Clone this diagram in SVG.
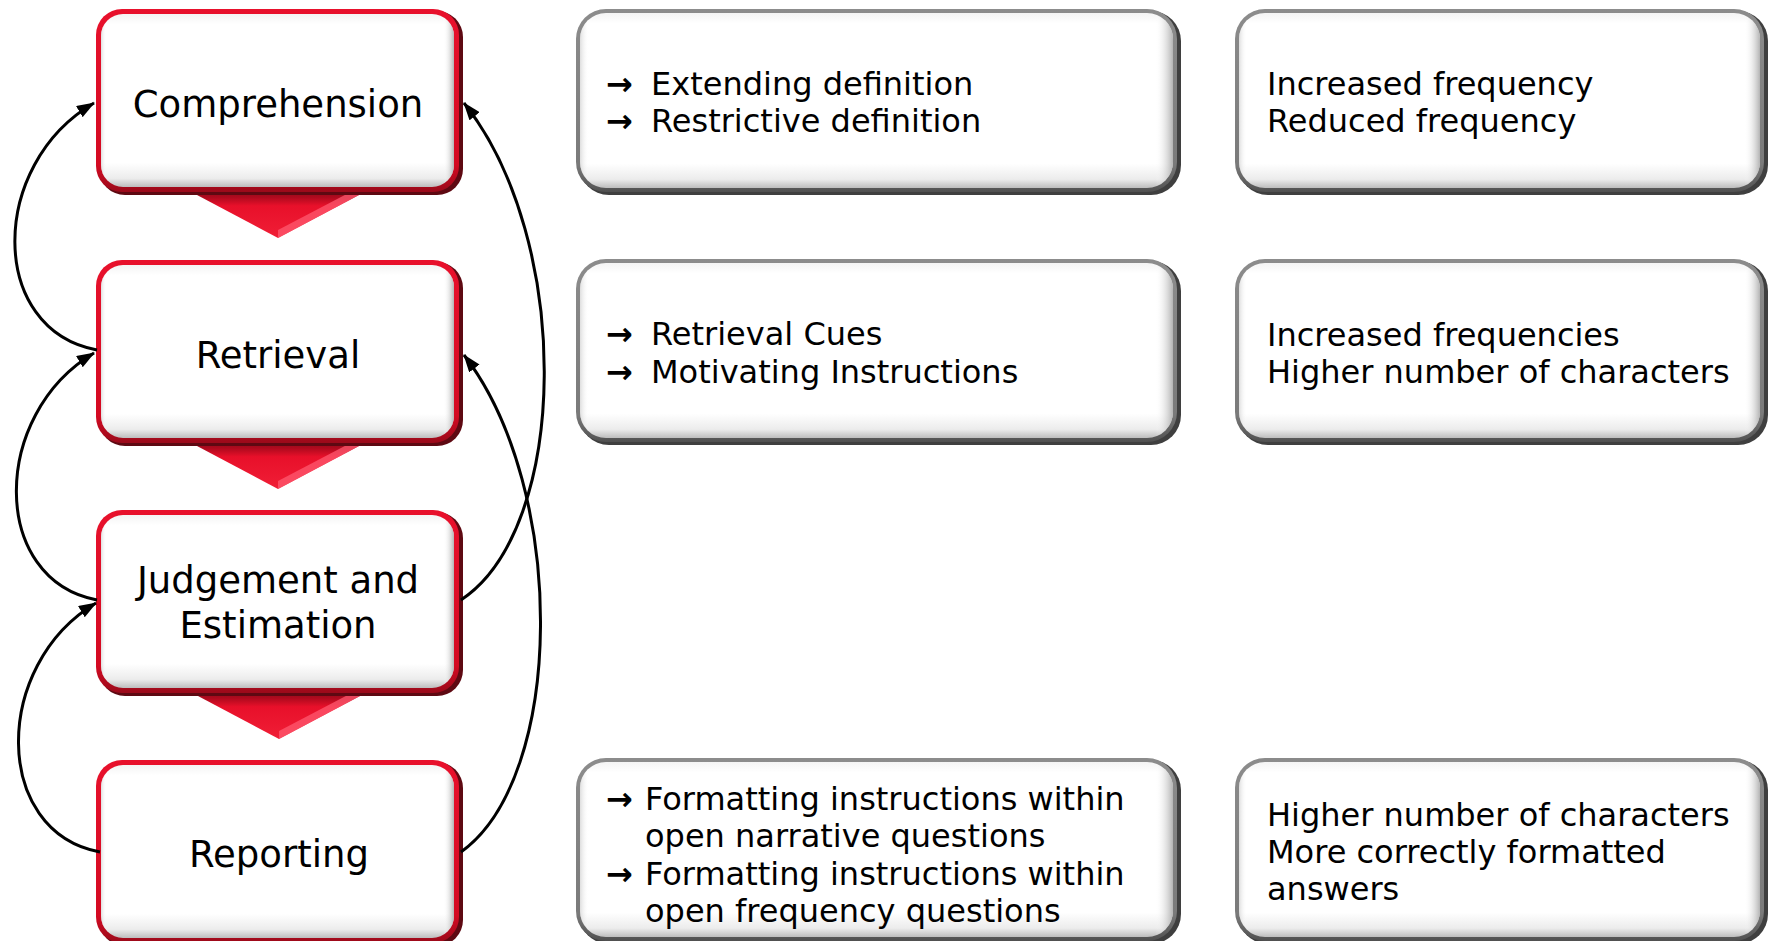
<svg xmlns="http://www.w3.org/2000/svg" width="1771" height="941" viewBox="0 0 1771 941">
  <defs>
    <style>
      .title { font-family: "DejaVu Sans", "Noto Sans", sans-serif; font-size: 37px; fill: #000; text-anchor: middle; }
      .body { font-family: "DejaVu Sans", "Noto Sans", sans-serif; font-size: 32px; fill: #000; }
      .arr { font-weight: bold; }
      .conn { fill: none; stroke: #000; stroke-width: 3; }
      .redShadow { fill: #5e0912; }
      .redBorder { fill: url(#redGrad); }
      .grayShadow { fill: #3f3f3f; }
      .grayBorder { fill: url(#grayGrad); }
      .inner { fill: url(#innerV); }
      .innerH { fill: url(#innerH); }
      .chev { fill: url(#chevGrad); }
      .chevHi { fill: #ff5a70; opacity: 0.75; }
    </style>
    <linearGradient id="redGrad" x1="0" y1="0" x2="0" y2="1">
      <stop offset="0" stop-color="#e8112c"/>
      <stop offset="0.85" stop-color="#d40a22"/>
      <stop offset="1" stop-color="#9a0a1a"/>
    </linearGradient>
    <linearGradient id="grayGrad" x1="0" y1="0" x2="0" y2="1">
      <stop offset="0" stop-color="#8c8c8c"/>
      <stop offset="0.85" stop-color="#7a7a7a"/>
      <stop offset="1" stop-color="#505050"/>
    </linearGradient>
    <linearGradient id="innerV" x1="0" y1="0" x2="0" y2="1">
      <stop offset="0" stop-color="#f4f4f4"/>
      <stop offset="0.06" stop-color="#ffffff"/>
      <stop offset="0.86" stop-color="#ffffff"/>
      <stop offset="0.95" stop-color="#ececec"/>
      <stop offset="1" stop-color="#bdbdbd"/>
    </linearGradient>
    <linearGradient id="innerH" x1="0" y1="0" x2="1" y2="0">
      <stop offset="0" stop-color="#c8c8c8" stop-opacity="0.6"/>
      <stop offset="0.015" stop-color="#ffffff" stop-opacity="0"/>
      <stop offset="0.97" stop-color="#ffffff" stop-opacity="0"/>
      <stop offset="1" stop-color="#a0a0a0" stop-opacity="0.8"/>
    </linearGradient>
    <linearGradient id="chevGrad" x1="0" y1="0" x2="0" y2="1">
      <stop offset="0" stop-color="#7a0614"/>
      <stop offset="0.22" stop-color="#b00a1e"/>
      <stop offset="0.38" stop-color="#e8102a"/>
      <stop offset="1" stop-color="#f01e36"/>
    </linearGradient>
    <marker id="ah" viewBox="0 0 18 13" refX="17" refY="6.5" markerWidth="18" markerHeight="13" markerUnits="userSpaceOnUse" orient="auto">
      <path d="M0,0 L18,6.5 L0,13 z" fill="#000"/>
    </marker>
  </defs>
  <rect width="1771" height="941" fill="#ffffff"/>

  <!-- chevrons between stages -->
  <g id="chevrons">
    <polygon class="chev" points="180,186 376,186 278,238"/>
    <polygon class="chevHi" points="278,238 376,186 362,186 278,230"/>
    <polygon class="chev" points="180,437 376,437 278,489"/>
    <polygon class="chevHi" points="278,489 376,437 362,437 278,481"/>
    <polygon class="chev" points="181,687 377,687 279,739"/>
    <polygon class="chevHi" points="279,739 377,687 363,687 279,731"/>
  </g>

  <g id="comprehension">
    <rect class="redShadow" x="99" y="11" width="364" height="184" rx="26"/>
    <rect class="redBorder" x="96" y="9" width="363" height="183" rx="26"/>
    <rect class="inner" x="101" y="14" width="353" height="173" rx="22"/>
    <rect class="innerH" x="101" y="14" width="353" height="173" rx="22"/>
    <text class="title" x="278" y="117">Comprehension</text>
  </g>

  <g id="retrieval">
    <rect class="redShadow" x="99" y="262" width="364" height="184" rx="26"/>
    <rect class="redBorder" x="96" y="260" width="363" height="183" rx="26"/>
    <rect class="inner" x="101" y="265" width="353" height="173" rx="22"/>
    <rect class="innerH" x="101" y="265" width="353" height="173" rx="22"/>
    <text class="title" x="278" y="368">Retrieval</text>
  </g>

  <g id="judgement">
    <rect class="redShadow" x="99" y="512" width="364" height="184" rx="26"/>
    <rect class="redBorder" x="96" y="510" width="363" height="183" rx="26"/>
    <rect class="inner" x="101" y="515" width="353" height="173" rx="22"/>
    <rect class="innerH" x="101" y="515" width="353" height="173" rx="22"/>
    <text class="title" x="278" y="593">Judgement and</text>
    <text class="title" x="278" y="638">Estimation</text>
  </g>

  <g id="reporting">
    <rect class="redShadow" x="99" y="762" width="364" height="184" rx="26"/>
    <rect class="redBorder" x="96" y="760" width="363" height="183" rx="26"/>
    <rect class="inner" x="101" y="765" width="353" height="173" rx="22"/>
    <rect class="innerH" x="101" y="765" width="353" height="173" rx="22"/>
    <text class="title" x="279" y="867">Reporting</text>
  </g>

  <g id="manip-comprehension">
    <rect class="grayShadow" x="579" y="11" width="602" height="184" rx="30"/>
    <rect class="grayBorder" x="576" y="9" width="601" height="183" rx="30"/>
    <rect class="inner" x="580" y="13" width="593" height="175" rx="26"/>
    <rect class="innerH" x="580" y="13" width="593" height="175" rx="26"/>
    <text class="body"><tspan class="arr" x="606" y="95">→</tspan><tspan x="651" y="95">Extending definition</tspan><tspan class="arr" x="606" y="132">→</tspan><tspan x="651" y="132">Restrictive definition</tspan></text>
  </g>

  <g id="manip-retrieval">
    <rect class="grayShadow" x="579" y="261" width="602" height="184" rx="30"/>
    <rect class="grayBorder" x="576" y="259" width="601" height="183" rx="30"/>
    <rect class="inner" x="580" y="263" width="593" height="175" rx="26"/>
    <rect class="innerH" x="580" y="263" width="593" height="175" rx="26"/>
    <text class="body"><tspan class="arr" x="606" y="345">→</tspan><tspan x="651" y="345">Retrieval Cues</tspan><tspan class="arr" x="606" y="383">→</tspan><tspan x="651" y="383">Motivating Instructions</tspan></text>
  </g>

  <g id="manip-reporting">
    <rect class="grayShadow" x="579" y="760" width="602" height="184" rx="30"/>
    <rect class="grayBorder" x="576" y="758" width="601" height="183" rx="30"/>
    <rect class="inner" x="580" y="762" width="593" height="175" rx="26"/>
    <rect class="innerH" x="580" y="762" width="593" height="175" rx="26"/>
    <text class="body"><tspan class="arr" x="606" y="810">→</tspan><tspan x="645" y="810">Formatting instructions within</tspan><tspan x="645" y="847">open narrative questions</tspan><tspan class="arr" x="606" y="885">→</tspan><tspan x="645" y="885">Formatting instructions within</tspan><tspan x="645" y="922">open frequency questions</tspan></text>
  </g>

  <g id="effect-comprehension">
    <rect class="grayShadow" x="1238" y="11" width="530" height="184" rx="30"/>
    <rect class="grayBorder" x="1235" y="9" width="529" height="183" rx="30"/>
    <rect class="inner" x="1239" y="13" width="521" height="175" rx="26"/>
    <rect class="innerH" x="1239" y="13" width="521" height="175" rx="26"/>
    <text class="body"><tspan x="1267" y="95">Increased frequency</tspan><tspan x="1267" y="132">Reduced frequency</tspan></text>
  </g>

  <g id="effect-retrieval">
    <rect class="grayShadow" x="1238" y="261" width="530" height="184" rx="30"/>
    <rect class="grayBorder" x="1235" y="259" width="529" height="183" rx="30"/>
    <rect class="inner" x="1239" y="263" width="521" height="175" rx="26"/>
    <rect class="innerH" x="1239" y="263" width="521" height="175" rx="26"/>
    <text class="body"><tspan x="1267" y="346">Increased frequencies</tspan><tspan x="1267" y="383">Higher number of characters</tspan></text>
  </g>

  <g id="effect-reporting">
    <rect class="grayShadow" x="1238" y="760" width="530" height="184" rx="30"/>
    <rect class="grayBorder" x="1235" y="758" width="529" height="183" rx="30"/>
    <rect class="inner" x="1239" y="762" width="521" height="175" rx="26"/>
    <rect class="innerH" x="1239" y="762" width="521" height="175" rx="26"/>
    <text class="body"><tspan x="1267" y="826">Higher number of characters</tspan><tspan x="1267" y="863">More correctly formatted</tspan><tspan x="1267" y="900">answers</tspan></text>
  </g>

  <g id="connectors">
    <path class="conn" d="M97,350 C-12,330 -12,165 94,103" marker-end="url(#ah)"/>
    <path class="conn" d="M97,600 C-10,580 -10,415 94,353" marker-end="url(#ah)"/>
    <path class="conn" d="M100,852 C-8,832 -8,665 96,603" marker-end="url(#ah)"/>
    <path class="conn" d="M461,600 C570,528 573,240 464,103" marker-end="url(#ah)"/>
    <path class="conn" d="M461,852 C565,778 568,490 464,355" marker-end="url(#ah)"/>
  </g>
</svg>
